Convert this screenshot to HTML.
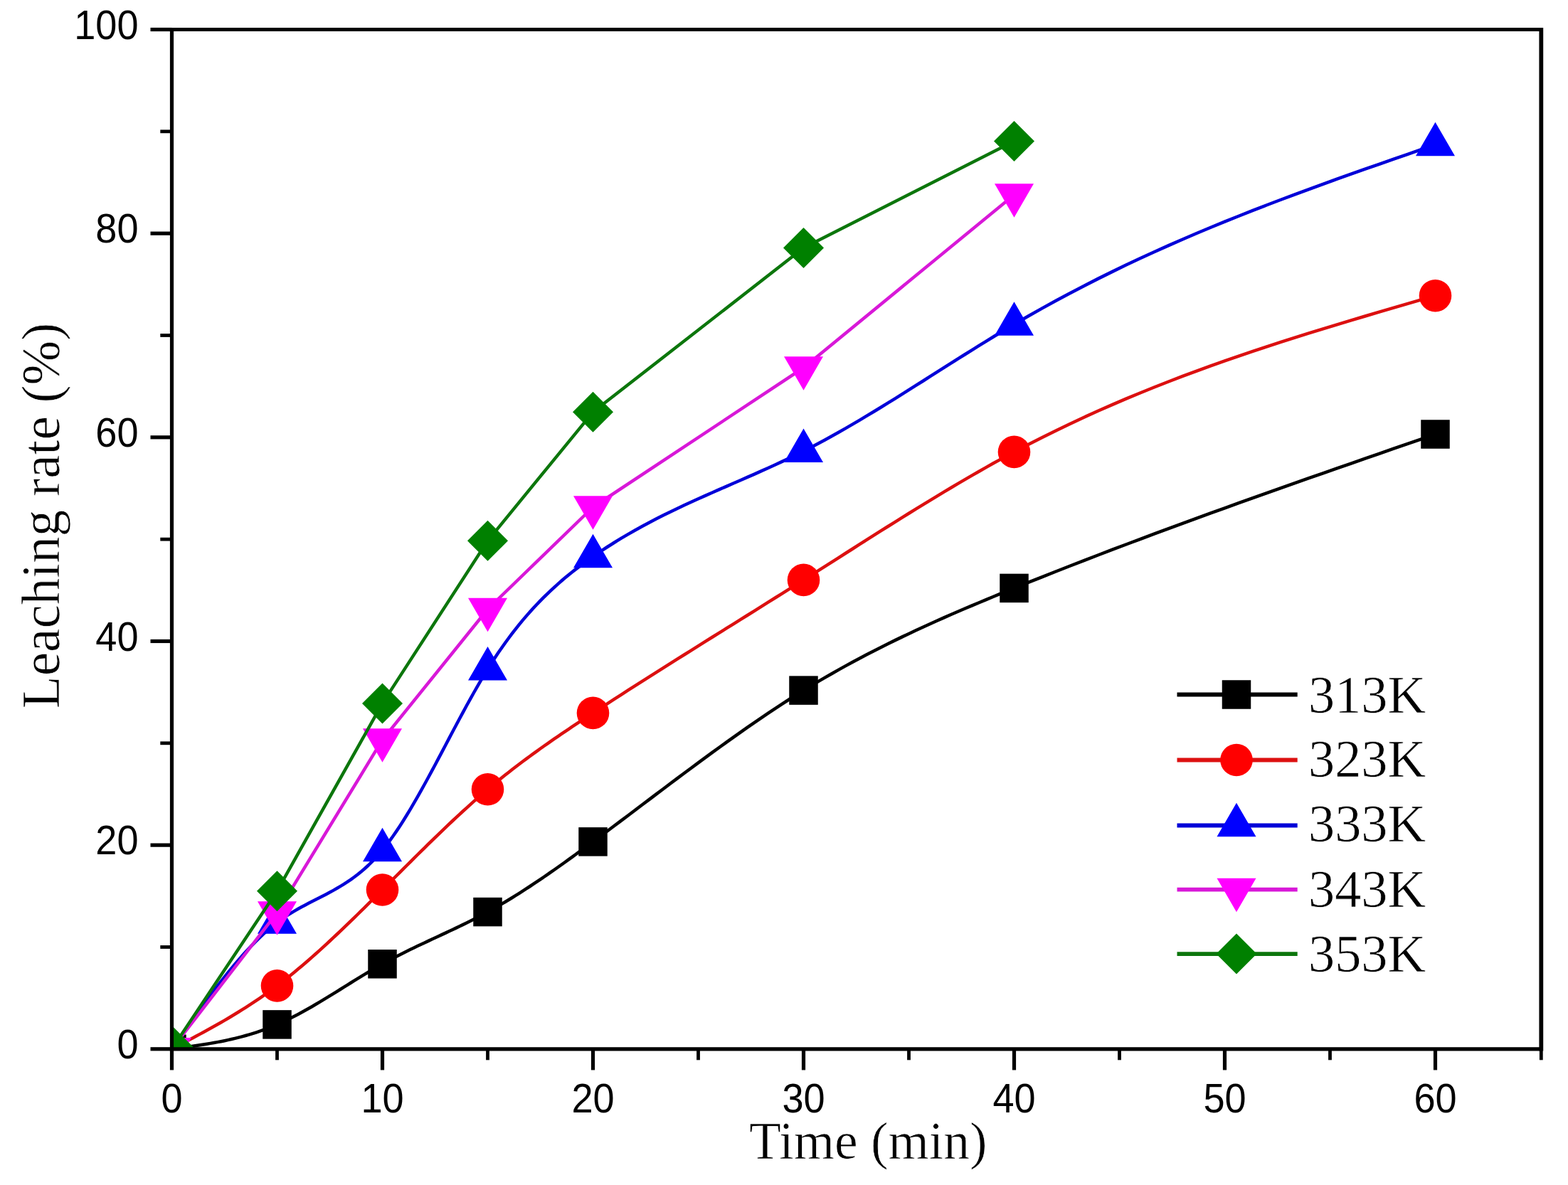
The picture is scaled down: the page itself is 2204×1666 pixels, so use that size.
<!DOCTYPE html>
<html><head><meta charset="utf-8"><title>Leaching rate vs time</title>
<style>html,body{margin:0;padding:0;background:#fff;overflow:hidden;}svg{display:block;}</style>
</head><body>
<svg width="2204" height="1666" viewBox="0 0 2204 1666">
<rect width="2204" height="1666" fill="#ffffff"/>
<defs><clipPath id="pc"><rect x="241.5" y="41.5" width="1924.8000000000002" height="1433.3"/></clipPath></defs>
<g clip-path="url(#pc)">
<path d="M241.50,1474.80 L246.43,1474.15 L251.37,1473.49 L256.30,1472.83 L261.23,1472.16 L266.17,1471.47 L271.10,1470.77 L276.03,1470.05 L280.97,1469.31 L285.90,1468.54 L290.83,1467.74 L295.77,1466.90 L300.70,1466.03 L305.63,1465.12 L310.57,1464.17 L315.50,1463.17 L320.43,1462.12 L325.37,1461.02 L330.30,1459.87 L335.23,1458.65 L340.17,1457.37 L345.10,1456.03 L350.03,1454.61 L354.97,1453.12 L359.90,1451.56 L364.83,1449.92 L369.77,1448.19 L374.70,1446.38 L379.63,1444.48 L384.57,1442.49 L389.50,1440.40 L394.43,1438.21 L399.37,1435.93 L404.30,1433.57 L409.23,1431.11 L414.17,1428.58 L419.10,1425.98 L424.03,1423.31 L428.97,1420.58 L433.90,1417.79 L438.83,1414.95 L443.77,1412.06 L448.70,1409.13 L453.63,1406.16 L458.57,1403.17 L463.50,1400.14 L468.43,1397.10 L473.37,1394.04 L478.30,1390.98 L483.23,1387.90 L488.17,1384.83 L493.10,1381.77 L498.03,1378.71 L502.97,1375.67 L507.90,1372.66 L512.83,1369.67 L517.77,1366.71 L522.70,1363.79 L527.63,1360.91 L532.57,1358.08 L537.50,1355.30 L542.43,1352.58 L547.37,1349.91 L552.30,1347.30 L557.23,1344.73 L562.17,1342.20 L567.10,1339.72 L572.03,1337.27 L576.97,1334.85 L581.90,1332.46 L586.83,1330.09 L591.77,1327.75 L596.70,1325.42 L601.63,1323.11 L606.57,1320.80 L611.50,1318.50 L616.43,1316.20 L621.37,1313.90 L626.30,1311.59 L631.23,1309.28 L636.17,1306.95 L641.10,1304.60 L646.03,1302.24 L650.97,1299.85 L655.90,1297.43 L660.83,1294.97 L665.77,1292.49 L670.70,1289.96 L675.63,1287.39 L680.57,1284.77 L685.50,1282.10 L690.43,1279.38 L695.37,1276.60 L700.30,1273.77 L705.23,1270.90 L710.17,1267.97 L715.10,1264.99 L720.03,1261.98 L724.97,1258.91 L729.90,1255.81 L734.83,1252.66 L739.77,1249.47 L744.70,1246.25 L749.63,1242.98 L754.57,1239.69 L759.50,1236.36 L764.43,1232.99 L769.37,1229.60 L774.30,1226.18 L779.23,1222.73 L784.17,1219.25 L789.10,1215.75 L794.03,1212.23 L798.97,1208.69 L803.90,1205.12 L808.83,1201.54 L813.77,1197.94 L818.70,1194.32 L823.63,1190.69 L828.57,1187.05 L833.50,1183.40 L843.37,1176.07 L853.23,1168.70 L863.10,1161.31 L872.97,1153.89 L882.83,1146.46 L892.70,1139.02 L902.57,1131.57 L912.43,1124.12 L922.30,1116.67 L932.17,1109.24 L942.03,1101.82 L951.90,1094.42 L961.77,1087.04 L971.63,1079.69 L981.50,1072.38 L991.37,1065.12 L1001.23,1057.89 L1011.10,1050.72 L1020.97,1043.61 L1030.83,1036.56 L1040.70,1029.57 L1050.57,1022.66 L1060.43,1015.82 L1070.30,1009.07 L1080.17,1002.41 L1090.03,995.84 L1099.90,989.37 L1109.77,983.00 L1119.63,976.74 L1129.50,970.60 L1139.37,964.57 L1149.23,958.67 L1159.10,952.87 L1168.97,947.18 L1178.83,941.60 L1188.70,936.13 L1198.57,930.75 L1208.43,925.47 L1218.30,920.28 L1228.17,915.18 L1238.03,910.17 L1247.90,905.24 L1257.77,900.39 L1267.63,895.62 L1277.50,890.92 L1287.37,886.29 L1297.23,881.73 L1307.10,877.22 L1316.97,872.78 L1326.83,868.40 L1336.70,864.06 L1346.57,859.78 L1356.43,855.54 L1366.30,851.35 L1376.17,847.20 L1386.03,843.08 L1395.90,838.99 L1405.77,834.94 L1415.63,830.91 L1425.50,826.90 L1445.23,818.95 L1464.97,811.07 L1484.70,803.26 L1504.43,795.52 L1524.17,787.86 L1543.90,780.25 L1563.63,772.71 L1583.37,765.23 L1603.10,757.80 L1622.83,750.43 L1642.57,743.12 L1662.30,735.85 L1682.03,728.63 L1701.77,721.45 L1721.50,714.31 L1741.23,707.22 L1760.97,700.16 L1780.70,693.13 L1800.43,686.13 L1820.17,679.17 L1839.90,672.23 L1859.63,665.31 L1879.37,658.41 L1899.10,651.53 L1918.83,644.67 L1938.57,637.82 L1958.30,630.98 L1978.03,624.15 L1997.77,617.32 L2017.50,610.50" fill="none" stroke="#000000" stroke-width="4.5" stroke-linejoin="round"/>
<rect x="221.25" y="1454.55" width="40.5" height="40.5" fill="#000000"/>
<rect x="369.25" y="1420.15" width="40.5" height="40.5" fill="#000000"/>
<rect x="517.25" y="1335.05" width="40.5" height="40.5" fill="#000000"/>
<rect x="665.25" y="1261.85" width="40.5" height="40.5" fill="#000000"/>
<rect x="813.25" y="1163.15" width="40.5" height="40.5" fill="#000000"/>
<rect x="1109.25" y="950.35" width="40.5" height="40.5" fill="#000000"/>
<rect x="1405.25" y="806.65" width="40.5" height="40.5" fill="#000000"/>
<rect x="1997.25" y="590.25" width="40.5" height="40.5" fill="#000000"/>
<path d="M241.50,1474.80 L246.43,1472.21 L251.37,1469.62 L256.30,1467.03 L261.23,1464.42 L266.17,1461.81 L271.10,1459.19 L276.03,1456.55 L280.97,1453.89 L285.90,1451.21 L290.83,1448.51 L295.77,1445.79 L300.70,1443.03 L305.63,1440.25 L310.57,1437.43 L315.50,1434.58 L320.43,1431.69 L325.37,1428.77 L330.30,1425.79 L335.23,1422.78 L340.17,1419.71 L345.10,1416.60 L350.03,1413.43 L354.97,1410.21 L359.90,1406.93 L364.83,1403.59 L369.77,1400.19 L374.70,1396.72 L379.63,1393.18 L384.57,1389.58 L389.50,1385.90 L394.43,1382.15 L399.37,1378.32 L404.30,1374.42 L409.23,1370.46 L414.17,1366.43 L419.10,1362.33 L424.03,1358.18 L428.97,1353.96 L433.90,1349.69 L438.83,1345.37 L443.77,1340.99 L448.70,1336.56 L453.63,1332.08 L458.57,1327.56 L463.50,1323.00 L468.43,1318.40 L473.37,1313.76 L478.30,1309.08 L483.23,1304.37 L488.17,1299.63 L493.10,1294.85 L498.03,1290.06 L502.97,1285.24 L507.90,1280.39 L512.83,1275.53 L517.77,1270.65 L522.70,1265.75 L527.63,1260.84 L532.57,1255.93 L537.50,1251.00 L542.43,1246.07 L547.37,1241.13 L552.30,1236.20 L557.23,1231.26 L562.17,1226.32 L567.10,1221.39 L572.03,1216.47 L576.97,1211.56 L581.90,1206.65 L586.83,1201.76 L591.77,1196.89 L596.70,1192.03 L601.63,1187.19 L606.57,1182.37 L611.50,1177.57 L616.43,1172.80 L621.37,1168.06 L626.30,1163.35 L631.23,1158.66 L636.17,1154.01 L641.10,1149.40 L646.03,1144.82 L650.97,1140.28 L655.90,1135.79 L660.83,1131.34 L665.77,1126.93 L670.70,1122.57 L675.63,1118.26 L680.57,1114.00 L685.50,1109.80 L690.43,1105.65 L695.37,1101.56 L700.30,1097.52 L705.23,1093.53 L710.17,1089.58 L715.10,1085.69 L720.03,1081.84 L724.97,1078.04 L729.90,1074.28 L734.83,1070.56 L739.77,1066.89 L744.70,1063.25 L749.63,1059.64 L754.57,1056.07 L759.50,1052.54 L764.43,1049.03 L769.37,1045.56 L774.30,1042.11 L779.23,1038.70 L784.17,1035.30 L789.10,1031.93 L794.03,1028.58 L798.97,1025.26 L803.90,1021.95 L808.83,1018.66 L813.77,1015.38 L818.70,1012.12 L823.63,1008.87 L828.57,1005.63 L833.50,1002.40 L843.37,995.96 L853.23,989.55 L863.10,983.17 L872.97,976.81 L882.83,970.48 L892.70,964.17 L902.57,957.88 L912.43,951.61 L922.30,945.36 L932.17,939.12 L942.03,932.89 L951.90,926.68 L961.77,920.49 L971.63,914.30 L981.50,908.12 L991.37,901.95 L1001.23,895.78 L1011.10,889.61 L1020.97,883.45 L1030.83,877.29 L1040.70,871.13 L1050.57,864.97 L1060.43,858.80 L1070.30,852.63 L1080.17,846.45 L1090.03,840.26 L1099.90,834.07 L1109.77,827.86 L1119.63,821.64 L1129.50,815.40 L1139.37,809.15 L1149.23,802.89 L1159.10,796.61 L1168.97,790.33 L1178.83,784.05 L1188.70,777.77 L1198.57,771.49 L1208.43,765.22 L1218.30,758.95 L1228.17,752.70 L1238.03,746.47 L1247.90,740.26 L1257.77,734.06 L1267.63,727.90 L1277.50,721.76 L1287.37,715.66 L1297.23,709.59 L1307.10,703.56 L1316.97,697.57 L1326.83,691.63 L1336.70,685.74 L1346.57,679.89 L1356.43,674.11 L1366.30,668.38 L1376.17,662.71 L1386.03,657.11 L1395.90,651.57 L1405.77,646.10 L1415.63,640.71 L1425.50,635.40 L1445.23,625.01 L1464.97,614.94 L1484.70,605.16 L1504.43,595.68 L1524.17,586.47 L1543.90,577.53 L1563.63,568.85 L1583.37,560.42 L1603.10,552.23 L1622.83,544.26 L1642.57,536.50 L1662.30,528.95 L1682.03,521.59 L1701.77,514.42 L1721.50,507.41 L1741.23,500.57 L1760.97,493.88 L1780.70,487.33 L1800.43,480.91 L1820.17,474.60 L1839.90,468.41 L1859.63,462.31 L1879.37,456.29 L1899.10,450.35 L1918.83,444.48 L1938.57,438.66 L1958.30,432.88 L1978.03,427.14 L1997.77,421.41 L2017.50,415.70" fill="none" stroke="#dc1010" stroke-width="4.5" stroke-linejoin="round"/>
<circle cx="241.50" cy="1474.80" r="22.8" fill="#ff0000"/>
<circle cx="389.50" cy="1385.90" r="22.8" fill="#ff0000"/>
<circle cx="537.50" cy="1251.00" r="22.8" fill="#ff0000"/>
<circle cx="685.50" cy="1109.80" r="22.8" fill="#ff0000"/>
<circle cx="833.50" cy="1002.40" r="22.8" fill="#ff0000"/>
<circle cx="1129.50" cy="815.40" r="22.8" fill="#ff0000"/>
<circle cx="1425.50" cy="635.40" r="22.8" fill="#ff0000"/>
<circle cx="2017.50" cy="415.70" r="22.8" fill="#ff0000"/>
<path d="M241.50,1474.80 L246.43,1467.78 L251.37,1460.77 L256.30,1453.77 L261.23,1446.79 L266.17,1439.84 L271.10,1432.93 L276.03,1426.07 L280.97,1419.25 L285.90,1412.49 L290.83,1405.80 L295.77,1399.18 L300.70,1392.64 L305.63,1386.19 L310.57,1379.83 L315.50,1373.58 L320.43,1367.44 L325.37,1361.41 L330.30,1355.50 L335.23,1349.73 L340.17,1344.10 L345.10,1338.61 L350.03,1333.28 L354.97,1328.10 L359.90,1323.10 L364.83,1318.27 L369.77,1313.62 L374.70,1309.16 L379.63,1304.90 L384.57,1300.84 L389.50,1297.00 L394.43,1293.37 L399.37,1289.94 L404.30,1286.69 L409.23,1283.60 L414.17,1280.65 L419.10,1277.82 L424.03,1275.09 L428.97,1272.44 L433.90,1269.86 L438.83,1267.32 L443.77,1264.80 L448.70,1262.29 L453.63,1259.76 L458.57,1257.19 L463.50,1254.57 L468.43,1251.88 L473.37,1249.08 L478.30,1246.18 L483.23,1243.14 L488.17,1239.95 L493.10,1236.59 L498.03,1233.03 L502.97,1229.26 L507.90,1225.26 L512.83,1221.01 L517.77,1216.49 L522.70,1211.68 L527.63,1206.55 L532.57,1201.10 L537.50,1195.30 L542.43,1189.14 L547.37,1182.63 L552.30,1175.79 L557.23,1168.64 L562.17,1161.20 L567.10,1153.50 L572.03,1145.54 L576.97,1137.37 L581.90,1128.98 L586.83,1120.40 L591.77,1111.66 L596.70,1102.78 L601.63,1093.76 L606.57,1084.64 L611.50,1075.44 L616.43,1066.16 L621.37,1056.84 L626.30,1047.50 L631.23,1038.15 L636.17,1028.81 L641.10,1019.51 L646.03,1010.27 L650.97,1001.10 L655.90,992.02 L660.83,983.06 L665.77,974.24 L670.70,965.57 L675.63,957.08 L680.57,948.78 L685.50,940.70 L690.43,932.85 L695.37,925.24 L700.30,917.84 L705.23,910.67 L710.17,903.71 L715.10,896.96 L720.03,890.41 L724.97,884.06 L729.90,877.90 L734.83,871.93 L739.77,866.13 L744.70,860.51 L749.63,855.05 L754.57,849.76 L759.50,844.63 L764.43,839.64 L769.37,834.80 L774.30,830.10 L779.23,825.54 L784.17,821.10 L789.10,816.78 L794.03,812.58 L798.97,808.49 L803.90,804.51 L808.83,800.63 L813.77,796.84 L818.70,793.13 L823.63,789.51 L828.57,785.97 L833.50,782.50 L843.37,775.75 L853.23,769.25 L863.10,762.98 L872.97,756.94 L882.83,751.10 L892.70,745.46 L902.57,740.00 L912.43,734.71 L922.30,729.57 L932.17,724.58 L942.03,719.71 L951.90,714.96 L961.77,710.31 L971.63,705.76 L981.50,701.27 L991.37,696.86 L1001.23,692.49 L1011.10,688.15 L1020.97,683.84 L1030.83,679.54 L1040.70,675.24 L1050.57,670.92 L1060.43,666.57 L1070.30,662.18 L1080.17,657.74 L1090.03,653.22 L1099.90,648.62 L1109.77,643.93 L1119.63,639.12 L1129.50,634.20 L1139.37,629.14 L1149.23,623.96 L1159.10,618.65 L1168.97,613.24 L1178.83,607.71 L1188.70,602.09 L1198.57,596.37 L1208.43,590.57 L1218.30,584.69 L1228.17,578.74 L1238.03,572.73 L1247.90,566.66 L1257.77,560.54 L1267.63,554.38 L1277.50,548.19 L1287.37,541.97 L1297.23,535.73 L1307.10,529.47 L1316.97,523.21 L1326.83,516.95 L1336.70,510.70 L1346.57,504.46 L1356.43,498.25 L1366.30,492.07 L1376.17,485.92 L1386.03,479.82 L1395.90,473.77 L1405.77,467.78 L1415.63,461.85 L1425.50,456.00 L1445.23,444.53 L1464.97,433.37 L1484.70,422.51 L1504.43,411.94 L1524.17,401.65 L1543.90,391.62 L1563.63,381.86 L1583.37,372.33 L1603.10,363.04 L1622.83,353.98 L1642.57,345.13 L1662.30,336.49 L1682.03,328.03 L1701.77,319.76 L1721.50,311.66 L1741.23,303.72 L1760.97,295.93 L1780.70,288.27 L1800.43,280.75 L1820.17,273.35 L1839.90,266.05 L1859.63,258.84 L1879.37,251.73 L1899.10,244.68 L1918.83,237.70 L1938.57,230.78 L1958.30,223.90 L1978.03,217.05 L1997.77,210.22 L2017.50,203.40" fill="none" stroke="#0000d8" stroke-width="4.5" stroke-linejoin="round"/>
<polygon points="241.50,1443.13 269.00,1490.63 214.00,1490.63" fill="#0000ff"/>
<polygon points="389.50,1265.33 417.00,1312.83 362.00,1312.83" fill="#0000ff"/>
<polygon points="537.50,1163.63 565.00,1211.13 510.00,1211.13" fill="#0000ff"/>
<polygon points="685.50,909.03 713.00,956.53 658.00,956.53" fill="#0000ff"/>
<polygon points="833.50,750.83 861.00,798.33 806.00,798.33" fill="#0000ff"/>
<polygon points="1129.50,602.53 1157.00,650.03 1102.00,650.03" fill="#0000ff"/>
<polygon points="1425.50,424.33 1453.00,471.83 1398.00,471.83" fill="#0000ff"/>
<polygon points="2017.50,171.73 2045.00,219.23 1990.00,219.23" fill="#0000ff"/>
<path d="M241.50,1474.80 L389.50,1283.20 L537.50,1040.20 L685.50,856.50 L833.50,713.00 L1129.50,517.00 L1425.50,274.00" fill="none" stroke="#d818d8" stroke-width="4.5" stroke-linejoin="round"/>
<polygon points="241.50,1506.47 269.00,1458.97 214.00,1458.97" fill="#ff00ff"/>
<polygon points="389.50,1314.87 417.00,1267.37 362.00,1267.37" fill="#ff00ff"/>
<polygon points="537.50,1071.87 565.00,1024.37 510.00,1024.37" fill="#ff00ff"/>
<polygon points="685.50,888.17 713.00,840.67 658.00,840.67" fill="#ff00ff"/>
<polygon points="833.50,744.67 861.00,697.17 806.00,697.17" fill="#ff00ff"/>
<polygon points="1129.50,548.67 1157.00,501.17 1102.00,501.17" fill="#ff00ff"/>
<polygon points="1425.50,305.67 1453.00,258.17 1398.00,258.17" fill="#ff00ff"/>
<path d="M241.50,1474.80 L389.50,1252.70 L537.50,988.90 L685.50,760.30 L833.50,579.30 L1129.50,348.60 L1425.50,198.40" fill="none" stroke="#0c760c" stroke-width="4.5" stroke-linejoin="round"/>
<polygon points="243.50,1443.80 272.00,1472.30 243.50,1500.80 215.00,1472.30" fill="#008000"/>
<polygon points="389.50,1224.20 418.00,1252.70 389.50,1281.20 361.00,1252.70" fill="#008000"/>
<polygon points="537.50,960.40 566.00,988.90 537.50,1017.40 509.00,988.90" fill="#008000"/>
<polygon points="685.50,731.80 714.00,760.30 685.50,788.80 657.00,760.30" fill="#008000"/>
<polygon points="833.50,550.80 862.00,579.30 833.50,607.80 805.00,579.30" fill="#008000"/>
<polygon points="1129.50,320.10 1158.00,348.60 1129.50,377.10 1101.00,348.60" fill="#008000"/>
<polygon points="1425.50,169.90 1454.00,198.40 1425.50,226.90 1397.00,198.40" fill="#008000"/>
</g>
<g stroke="#000" fill="none">
<path d="M2166.30,41.50 L241.50,41.50 L241.50,1474.80 L2166.30,1474.80" stroke-width="5.2" stroke-linejoin="miter"/>
<line x1="2166.30" y1="39.10" x2="2166.30" y2="1477.40" stroke-width="5.8"/>
<line x1="211.5" y1="1474.80" x2="241.5" y2="1474.80" stroke-width="5.2"/>
<line x1="211.5" y1="1188.14" x2="241.5" y2="1188.14" stroke-width="5.2"/>
<line x1="211.5" y1="901.48" x2="241.5" y2="901.48" stroke-width="5.2"/>
<line x1="211.5" y1="614.82" x2="241.5" y2="614.82" stroke-width="5.2"/>
<line x1="211.5" y1="328.16" x2="241.5" y2="328.16" stroke-width="5.2"/>
<line x1="211.5" y1="41.50" x2="241.5" y2="41.50" stroke-width="5.2"/>
<line x1="225.3" y1="1331.47" x2="241.5" y2="1331.47" stroke-width="4.8"/>
<line x1="225.3" y1="1044.81" x2="241.5" y2="1044.81" stroke-width="4.8"/>
<line x1="225.3" y1="758.15" x2="241.5" y2="758.15" stroke-width="4.8"/>
<line x1="225.3" y1="471.49" x2="241.5" y2="471.49" stroke-width="4.8"/>
<line x1="225.3" y1="184.83" x2="241.5" y2="184.83" stroke-width="4.8"/>
<line x1="241.50" y1="1474.8" x2="241.50" y2="1504.4" stroke-width="5.2"/>
<line x1="537.50" y1="1474.8" x2="537.50" y2="1504.4" stroke-width="5.2"/>
<line x1="833.50" y1="1474.8" x2="833.50" y2="1504.4" stroke-width="5.2"/>
<line x1="1129.50" y1="1474.8" x2="1129.50" y2="1504.4" stroke-width="5.2"/>
<line x1="1425.50" y1="1474.8" x2="1425.50" y2="1504.4" stroke-width="5.2"/>
<line x1="1721.50" y1="1474.8" x2="1721.50" y2="1504.4" stroke-width="5.2"/>
<line x1="2017.50" y1="1474.8" x2="2017.50" y2="1504.4" stroke-width="5.2"/>
<line x1="389.50" y1="1474.8" x2="389.50" y2="1490.3" stroke-width="4.8"/>
<line x1="685.50" y1="1474.8" x2="685.50" y2="1490.3" stroke-width="4.8"/>
<line x1="981.50" y1="1474.8" x2="981.50" y2="1490.3" stroke-width="4.8"/>
<line x1="1277.50" y1="1474.8" x2="1277.50" y2="1490.3" stroke-width="4.8"/>
<line x1="1573.50" y1="1474.8" x2="1573.50" y2="1490.3" stroke-width="4.8"/>
<line x1="1869.50" y1="1474.8" x2="1869.50" y2="1490.3" stroke-width="4.8"/>
<line x1="2166.30" y1="1474.8" x2="2166.30" y2="1490.3" stroke-width="4.8"/>
</g>
<g font-family="Liberation Sans, Arial, Helvetica, sans-serif" font-size="57" fill="#000">
<text transform="translate(194.5,1488.10) scale(0.95,1)" text-anchor="end">0</text>
<text transform="translate(194.5,1201.44) scale(0.95,1)" text-anchor="end">20</text>
<text transform="translate(194.5,914.78) scale(0.95,1)" text-anchor="end">40</text>
<text transform="translate(194.5,628.12) scale(0.95,1)" text-anchor="end">60</text>
<text transform="translate(194.5,341.46) scale(0.95,1)" text-anchor="end">80</text>
<text transform="translate(194.5,54.80) scale(0.95,1)" text-anchor="end">100</text>
<text transform="translate(241.50,1563.6) scale(0.95,1)" text-anchor="middle">0</text>
<text transform="translate(537.50,1563.6) scale(0.95,1)" text-anchor="middle">10</text>
<text transform="translate(833.50,1563.6) scale(0.95,1)" text-anchor="middle">20</text>
<text transform="translate(1129.50,1563.6) scale(0.95,1)" text-anchor="middle">30</text>
<text transform="translate(1425.50,1563.6) scale(0.95,1)" text-anchor="middle">40</text>
<text transform="translate(1721.50,1563.6) scale(0.95,1)" text-anchor="middle">50</text>
<text transform="translate(2017.50,1563.6) scale(0.95,1)" text-anchor="middle">60</text>
</g>
<text transform="translate(1052.9,1628.5) scale(1.008,1)" font-family="Liberation Serif, Times New Roman, Times, serif" stroke="#ffffff" stroke-width="0.7" font-size="73">Time (min)</text>
<text transform="translate(82.5,996.2) rotate(-90) scale(0.976,1)" font-family="Liberation Serif, Times New Roman, Times, serif" stroke="#ffffff" stroke-width="0.7" font-size="77">Leaching rate (%)</text>
<line x1="1654.5" y1="976.5" x2="1823.7" y2="976.5" stroke="#000000" stroke-width="5.8"/>
<rect x="1717.75" y="956.25" width="40.5" height="40.5" fill="#000000"/>
<text x="1839.0" y="1001.60" font-family="Liberation Serif, Times New Roman, Times, serif" stroke="#ffffff" stroke-width="0.7" font-size="74.3">313K</text>
<line x1="1654.5" y1="1068.5" x2="1823.7" y2="1068.5" stroke="#dc1010" stroke-width="5.8"/>
<circle cx="1738.00" cy="1068.50" r="22.8" fill="#ff0000"/>
<text x="1839.0" y="1092.00" font-family="Liberation Serif, Times New Roman, Times, serif" stroke="#ffffff" stroke-width="0.7" font-size="74.3">323K</text>
<line x1="1654.5" y1="1160.5" x2="1823.7" y2="1160.5" stroke="#0000d8" stroke-width="5.8"/>
<polygon points="1738.00,1128.83 1765.50,1176.33 1710.50,1176.33" fill="#0000ff"/>
<text x="1839.0" y="1182.70" font-family="Liberation Serif, Times New Roman, Times, serif" stroke="#ffffff" stroke-width="0.7" font-size="74.3">333K</text>
<line x1="1654.5" y1="1250.6" x2="1823.7" y2="1250.6" stroke="#d818d8" stroke-width="5.8"/>
<polygon points="1738.00,1282.27 1765.50,1234.77 1710.50,1234.77" fill="#ff00ff"/>
<text x="1839.0" y="1274.80" font-family="Liberation Serif, Times New Roman, Times, serif" stroke="#ffffff" stroke-width="0.7" font-size="74.3">343K</text>
<line x1="1654.5" y1="1341.1" x2="1823.7" y2="1341.1" stroke="#0c760c" stroke-width="5.8"/>
<polygon points="1738.00,1312.60 1766.50,1341.10 1738.00,1369.60 1709.50,1341.10" fill="#008000"/>
<text x="1839.0" y="1366.20" font-family="Liberation Serif, Times New Roman, Times, serif" stroke="#ffffff" stroke-width="0.7" font-size="74.3">353K</text>
</svg>
</body></html>
